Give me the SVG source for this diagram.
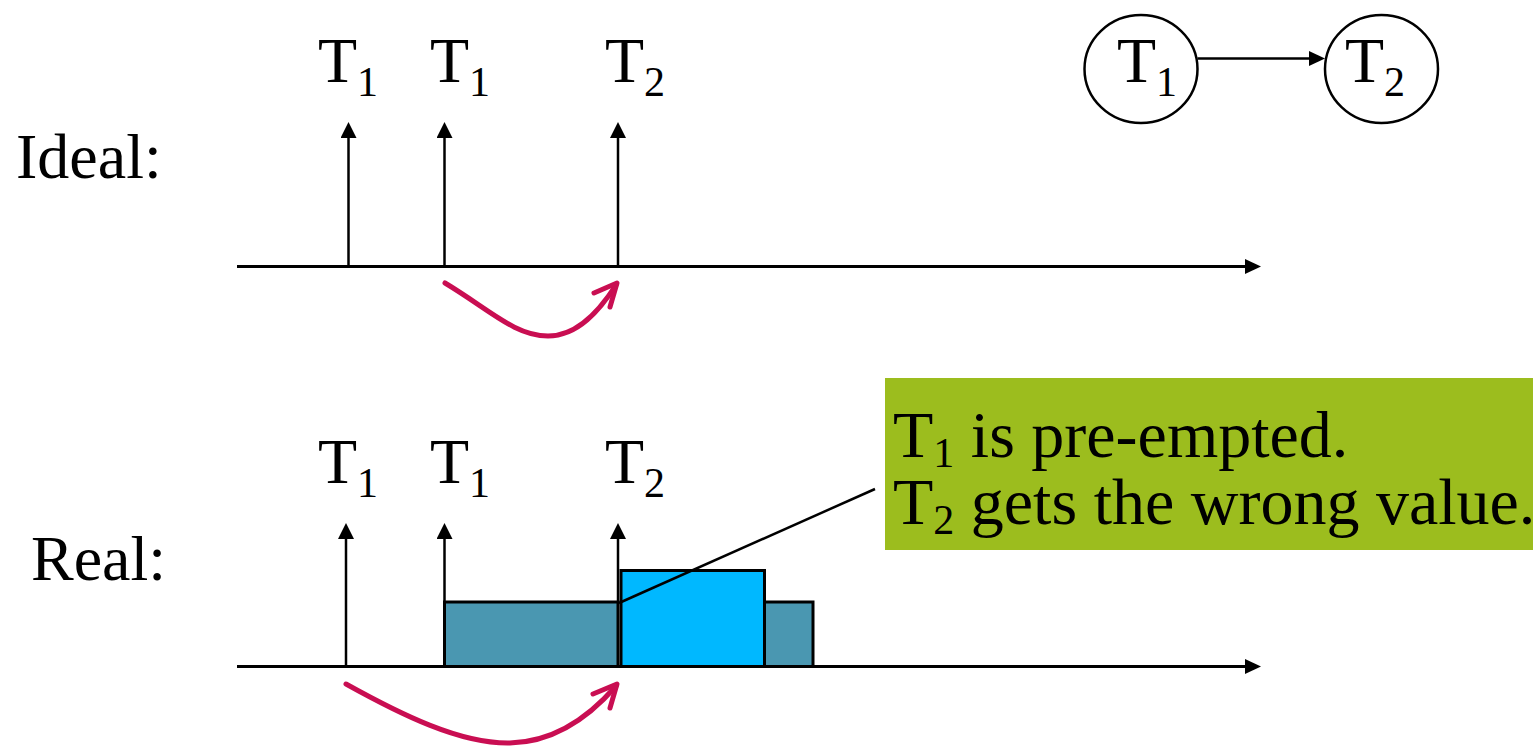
<svg xmlns="http://www.w3.org/2000/svg" width="1533" height="750" viewBox="0 0 1533 750">
<style>
text{font-family:"Liberation Serif","Times New Roman",serif;fill:#000}
.big{font-size:64px}
.sub{font-size:42px}
.box{font-size:66px}
.boxsub{font-size:42px}
.ax{stroke:#000;stroke-width:3;fill:none}
.ev{stroke:#000;stroke-width:2.5;fill:none}
.red{stroke:#C90E52;stroke-width:5;fill:none;stroke-linecap:round;stroke-linejoin:round}
.dark{fill:#4A97B1;stroke:#000;stroke-width:3}
.blue{fill:#00B8FF;stroke:#000;stroke-width:3}
.node{fill:#fff;stroke:#000;stroke-width:2.5}
</style>
<defs>
<marker id="ah" viewBox="0 0 10 10" refX="0" refY="5" markerUnits="userSpaceOnUse" markerWidth="16" markerHeight="16" orient="auto">
<path d="M0,0 L10,5 L0,10 z" fill="#000"/>
</marker>
<marker id="ah2" viewBox="0 0 10 10" refX="0" refY="5" markerUnits="userSpaceOnUse" markerWidth="16" markerHeight="15" orient="auto" preserveAspectRatio="none">
<path d="M0,0 L10,5 L0,10 z" fill="#000"/>
</marker>
</defs>

<g id="label-ideal"><text class="big" x="16" y="178">Ideal:</text></g>
<g id="label-real"><text class="big" x="31" y="580">Real:</text></g>

<g id="ideal-labels">
<text x="318" y="82"><tspan class="big">T</tspan><tspan class="sub" dy="14">1</tspan></text>
<text x="430" y="82"><tspan class="big">T</tspan><tspan class="sub" dy="14">1</tspan></text>
<text x="605" y="82"><tspan class="big">T</tspan><tspan class="sub" dy="14">2</tspan></text>
</g>

<g id="real-labels">
<text x="318" y="483"><tspan class="big">T</tspan><tspan class="sub" dy="14">1</tspan></text>
<text x="430" y="483"><tspan class="big">T</tspan><tspan class="sub" dy="14">1</tspan></text>
<text x="605" y="483"><tspan class="big">T</tspan><tspan class="sub" dy="14">2</tspan></text>
</g>

<g id="real-bars">
<rect class="dark" x="444.5" y="602" width="173.5" height="64.5"/>
<rect class="blue" x="621" y="570.5" width="143.5" height="96"/>
<rect class="dark" x="764.5" y="602" width="48.5" height="64.5"/>
</g>

<g id="node-T1">
<ellipse class="node" cx="1141" cy="69" rx="56.5" ry="54"/>
<text x="1117" y="82"><tspan class="big">T</tspan><tspan class="sub" dy="14">1</tspan></text>
</g>
<g id="node-T2">
<ellipse class="node" cx="1381.5" cy="69" rx="56.5" ry="54"/>
<text x="1345" y="82"><tspan class="big">T</tspan><tspan class="sub" dy="14">2</tspan></text>
</g>

<g id="callout">
<rect x="885" y="378" width="648" height="172" fill="#9CBD1E"/>
<text x="893" y="457"><tspan class="box">T</tspan><tspan class="boxsub" dy="10">1</tspan><tspan class="box" dy="-10"> is pre-empted.</tspan></text>
<text x="893" y="524"><tspan class="box">T</tspan><tspan class="boxsub" dy="10">2</tspan><tspan class="box" dy="-10"> gets the wrong value.</tspan></text>
</g>

<g id="connectors">
<line class="ax" x1="237" y1="266.5" x2="1245" y2="266.5" marker-end="url(#ah2)"/>
<line class="ax" x1="237" y1="666.5" x2="1245" y2="666.5" marker-end="url(#ah2)"/>
<line class="ev" x1="348.5" y1="266" x2="348.5" y2="138" marker-end="url(#ah)"/>
<line class="ev" x1="444.5" y1="266" x2="444.5" y2="138" marker-end="url(#ah)"/>
<line class="ev" x1="618" y1="266" x2="618" y2="138" marker-end="url(#ah)"/>
<line class="ev" x1="346" y1="666" x2="346" y2="539" marker-end="url(#ah)"/>
<line class="ev" x1="444.5" y1="602" x2="444.5" y2="539" marker-end="url(#ah)"/>
<line class="ev" x1="618" y1="602" x2="618" y2="539" marker-end="url(#ah)"/>
<line class="ev" x1="1197.5" y1="58.5" x2="1309" y2="58.5" marker-end="url(#ah2)"/>
<line class="ev" x1="619" y1="603" x2="875" y2="489"/>
<path class="red" d="M445,283 C490,310 515,336 548,336 C578,336 600,310 616,285"/>
<path class="red" d="M594,293 L617,283 L610,307"/>
<path class="red" d="M346,684 C400,714 460,744 510,743 C555,742 590,716 616,686"/>
<path class="red" d="M593,694 L617,684 L610,708"/>
</g>
</svg>
